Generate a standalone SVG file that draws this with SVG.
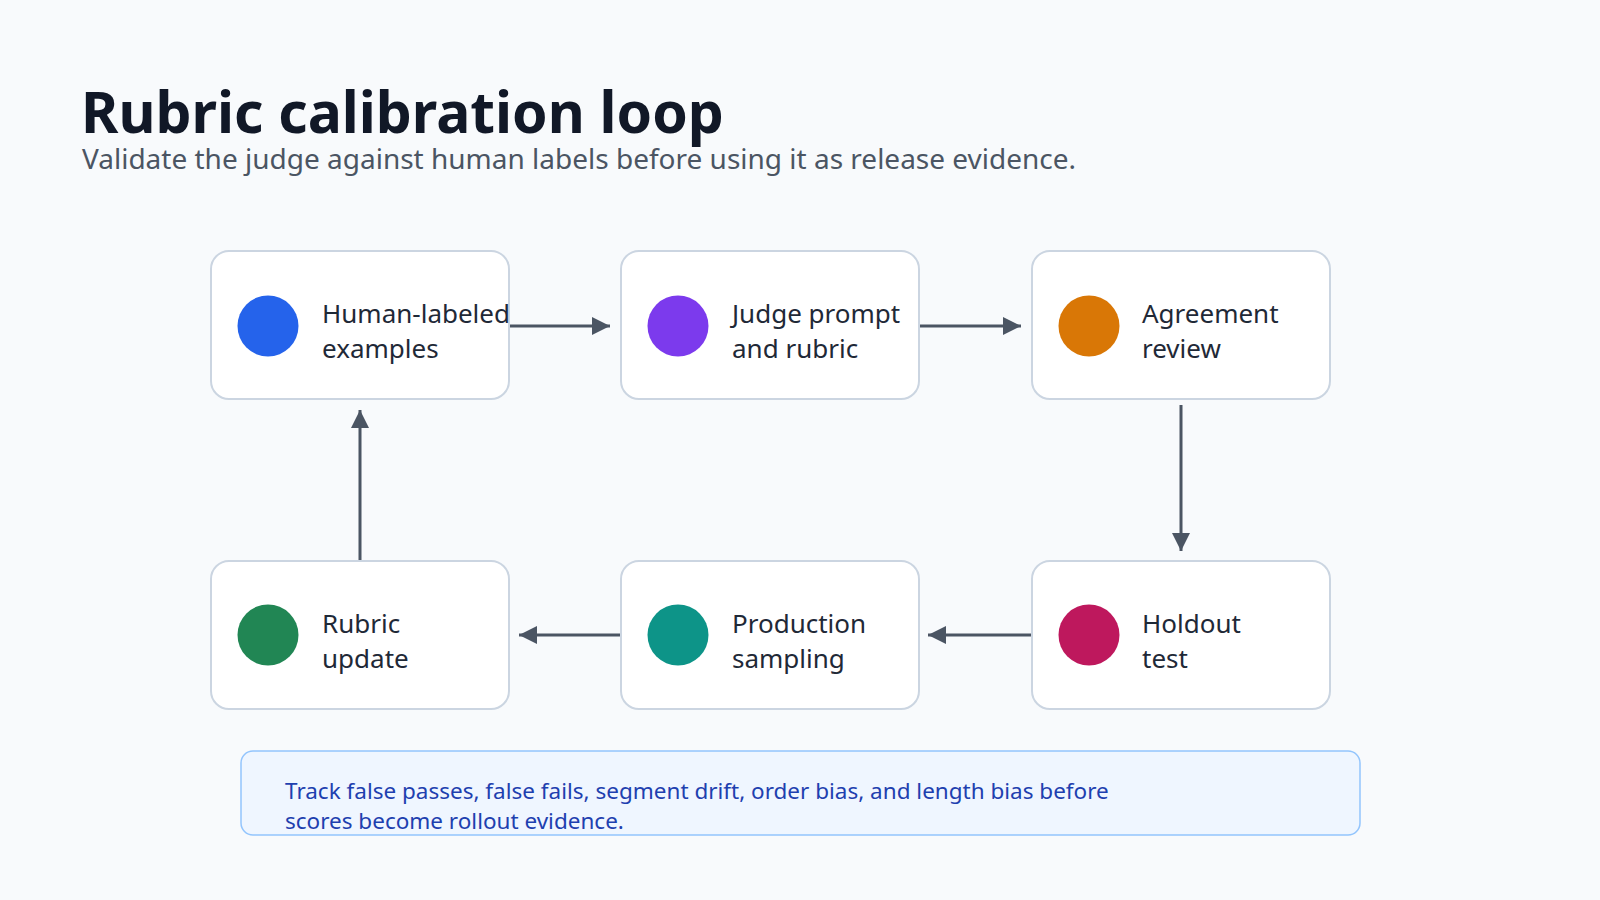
<svg xmlns="http://www.w3.org/2000/svg" width="1600" height="900" viewBox="0 0 1600 900">
<style>
.box{fill:#fff;stroke:#cbd5e1;stroke-width:2}
.lbl{font-family:"Noto Sans","Open Sans",sans-serif;font-size:26px;fill:#1f2937}
</style>
<defs>
<marker id="ah2" markerWidth="20" markerHeight="20" refX="18" refY="9" orient="auto" markerUnits="userSpaceOnUse"><path d="M0,0L18,9L0,18z" fill="#4b5563"/></marker></defs>
<rect width="1600" height="900" fill="#f8fafc"/>
<text x="81" y="133" font-family="Noto Sans,Open Sans,sans-serif" font-size="57" font-weight="bold" fill="#111827">Rubric calibration loop</text>
<text x="82" y="169" font-family="Noto Sans,Open Sans,sans-serif" font-size="28" fill="#4b5563">Validate the judge against human labels before using it as release evidence.</text>
<g id="connectors" stroke="#4b5563" stroke-width="3" fill="none">
<path d="M509,326H610" marker-end="url(#ah2)"/>
<path d="M920,326H1021" marker-end="url(#ah2)"/>
<path d="M1181,405V551" marker-end="url(#ah2)"/>
<path d="M1031,635H928" marker-end="url(#ah2)"/>
<path d="M620,635H519" marker-end="url(#ah2)"/>
<path d="M360,560V410" marker-end="url(#ah2)"/>
</g>
<g id="n1"><rect class="box" x="211" y="251" width="298" height="148" rx="18"/><circle cx="268" cy="326" r="30.5" fill="#2563eb"/><text class="lbl" x="322" y="323">Human-labeled</text><text class="lbl" x="322" y="358">examples</text></g>
<g id="n2"><rect class="box" x="621" y="251" width="298" height="148" rx="18"/><circle cx="678" cy="326" r="30.5" fill="#7c3aed"/><text class="lbl" x="732" y="323">Judge prompt</text><text class="lbl" x="732" y="358">and rubric</text></g>
<g id="n3"><rect class="box" x="1032" y="251" width="298" height="148" rx="18"/><circle cx="1089" cy="326" r="30.5" fill="#d97706"/><text class="lbl" x="1142" y="323">Agreement</text><text class="lbl" x="1142" y="358">review</text></g>
<g id="n4"><rect class="box" x="1032" y="561" width="298" height="148" rx="18"/><circle cx="1089" cy="635" r="30.5" fill="#be185d"/><text class="lbl" x="1142" y="633">Holdout</text><text class="lbl" x="1142" y="668">test</text></g>
<g id="n5"><rect class="box" x="621" y="561" width="298" height="148" rx="18"/><circle cx="678" cy="635" r="30.5" fill="#0d9488"/><text class="lbl" x="732" y="633">Production</text><text class="lbl" x="732" y="668">sampling</text></g>
<g id="n6"><rect class="box" x="211" y="561" width="298" height="148" rx="18"/><circle cx="268" cy="635" r="30.5" fill="#218654"/><text class="lbl" x="322" y="633">Rubric</text><text class="lbl" x="322" y="668">update</text></g>
<g id="note"><rect x="241" y="751" width="1119" height="84" rx="12" fill="#eff6ff" stroke="#93c5fd" stroke-width="1.5"/>
<text font-family="Noto Sans,Open Sans,sans-serif" font-size="22.5" fill="#1e40af"><tspan x="285" y="799">Track false passes, false fails, segment drift, order bias, and length bias before</tspan><tspan x="285" y="829">scores become rollout evidence.</tspan></text></g>
</svg>
